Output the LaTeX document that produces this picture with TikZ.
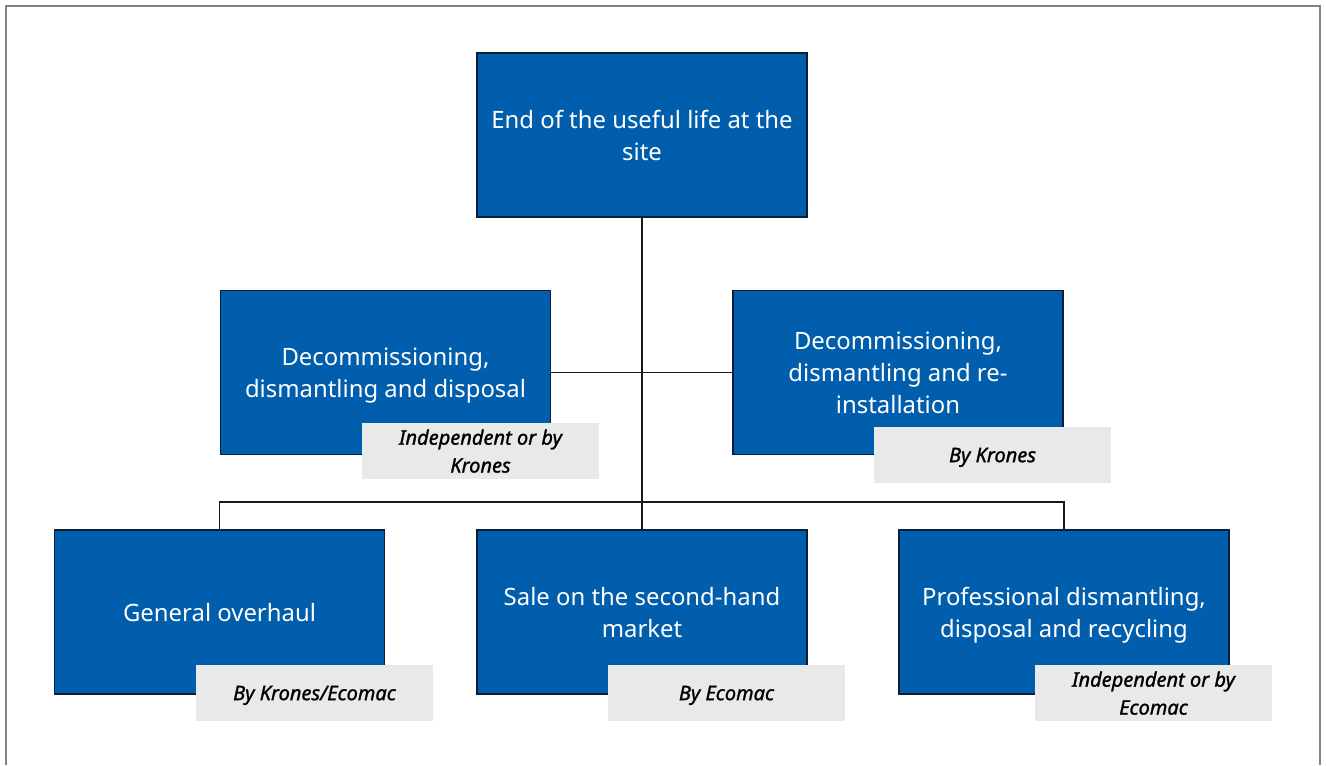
\documentclass[tikz,border=0pt]{standalone}
\usepackage{fontspec}
\setmainfont{Noto Sans}
\newfontfamily\tagfont[FakeBold=1.2]{Noto Sans}
\usetikzlibrary{calc}
\definecolor{kblue}{RGB}{0,94,172}
\definecolor{kedge}{RGB}{10,30,55}
\definecolor{ktag}{RGB}{232,233,233}
\definecolor{kframe}{RGB}{130,130,130}
\tikzset{
  stage/.style={rectangle, draw=kedge, line width=1pt, fill=kblue, text=white,
    minimum width=6.6cm, minimum height=3.28cm, inner sep=0pt, align=center,
    text depth=0pt, font=\fontsize{13.6}{18.2}\selectfont},
  tag/.style={rectangle, fill=ktag, text=black, minimum width=4.74cm,
    minimum height=1.12cm, inner sep=0pt, align=center, text depth=0pt,
    font=\tagfont\fontsize{11.4}{15.9}\selectfont\itshape},
  link/.style={draw=black!90, line width=0.9pt}
}
\begin{document}
\begin{tikzpicture}[x=0.02cm, y=-0.02cm]
		
		\useasboundingbox (0,0) rectangle (1326,765);
		\draw[kframe, line width=1.2pt] (6,765) -- (6,6) -- (1320,6) -- (1320,765);
		
		% boxes
		\node[stage] (endlife) at (642,135) {End of the useful life at the\\site};
		\node[stage] (decdisp) at (385.5,372.5) {Decommissioning,\\dismantling and disposal};
		\node[stage] (decinst) at (898,372.5) {Decommissioning,\\dismantling and re-\\installation};
		\node[stage] (overhaul) at (219.5,612) {General overhaul};
		\node[stage] (resale) at (642,612) {Sale on the second-hand\\market};
		\node[stage] (recycle) at (1064,612) {Professional dismantling,\\disposal and recycling};
		
		% connectors
		\coordinate (hub) at (642,502);
		\draw[link] (decdisp.east) -- (decinst.west);
		\draw[link] (endlife.south) -- (hub);
		\draw[link] (overhaul.north) |- (hub) -| (recycle.north);
		\draw[link] (hub) -- (resale.north);
		
		% who does it
		\node[tag] (tagdisp) at (480.5,451) {Independent or by\\Krones};
		\node[tag] (taginst) at (992.5,455) {By Krones};
		\node[tag] (tagover) at (314.5,693) {By Krones/Ecomac};
		\node[tag] (tagsale) at (726.5,693) {By Ecomac};
		\node[tag] (tagrecy) at (1153.5,693) {Independent or by\\Ecomac};
		
		\end{tikzpicture}
\end{document}
